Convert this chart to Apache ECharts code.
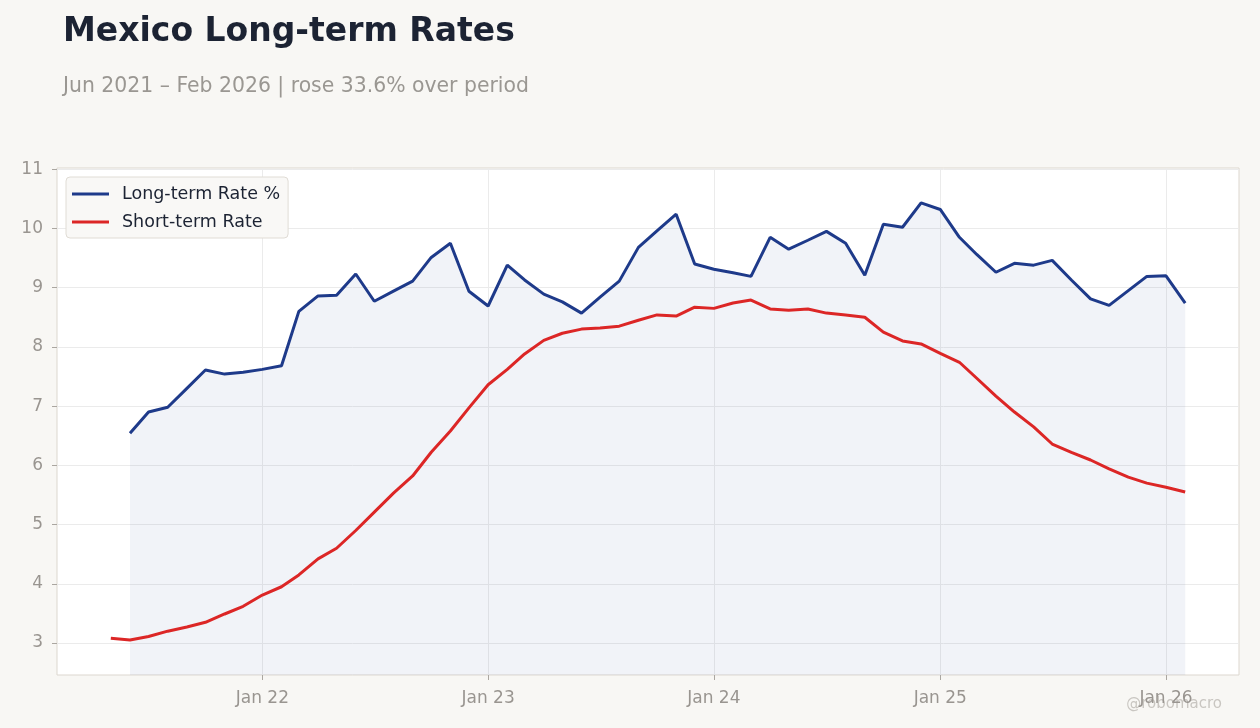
<!DOCTYPE html>
<html>
<head>
<meta charset="utf-8">
<script src="https://cdn.jsdelivr.net/npm/echarts@6/dist/echarts.min.js"></script>
<style>
  html, body { margin: 0; padding: 0; background: #f8f7f4; }
  #chart { width: 1260px; height: 728px; }
</style>
</head>
<body>
<div id="chart"></div>
<script>
// monthly observations, first day of month
var longStart  = [2021, 5];   // Jun 2021 (month index 0-based)
var shortStart = [2021, 4];   // May 2021

var longRate = [
    6.54, 6.90, 6.98, 7.30, 7.61, 7.54, 7.57, 7.62, 7.68, 8.60,
    8.86, 8.87, 9.23, 8.77, 8.94, 9.11, 9.51, 9.75, 8.94, 8.69,
    9.38, 9.13, 8.89, 8.76, 8.57, 8.84, 9.11, 9.68, 9.96, 10.24,
    9.40, 9.31, 9.25, 9.19, 9.85, 9.65, 9.80, 9.95, 9.75, 9.21,
    10.07, 10.02, 10.43, 10.32, 9.85, 9.56, 9.26, 9.41, 9.38, 9.46,
    9.13, 8.81, 8.70, 8.95, 9.19, 9.20, 8.74
];

var shortRate = [
    3.08, 3.05, 3.11, 3.20, 3.27, 3.35, 3.49, 3.62, 3.81, 3.95,
    4.15, 4.42, 4.60, 4.90, 5.21, 5.53, 5.82, 6.22, 6.58, 6.97,
    7.36, 7.62, 7.88, 8.11, 8.23, 8.30, 8.32, 8.35, 8.45, 8.54,
    8.52, 8.67, 8.65, 8.74, 8.79, 8.64, 8.62, 8.64, 8.57, 8.54,
    8.50, 8.25, 8.10, 8.05, 7.89, 7.74, 7.47, 7.17, 6.90, 6.65,
    6.36, 6.22, 6.09, 5.94, 5.80, 5.70, 5.63, 5.55
];

var yearTicks = [2022, 2023, 2024, 2025, 2026];
var rateTicks = [3, 4, 5, 6, 7, 8, 9, 10, 11];

function monthly(start, values) {
    var out = [];
    for (var i = 0; i < values.length; i++) {
        out.push([Date.UTC(start[0], start[1] + i, 1), values[i]]);
    }
    return out;
}

var tickValues = yearTicks.map(function (y) { return Date.UTC(y, 0, 1); });

var labelColor = '#999590';
var gridColor  = '#ebebeb';
var fontFamily = 'DejaVu Sans';

const myChart = echarts.init(document.getElementById('chart'), null, { renderer: 'canvas' });

var option = {
    backgroundColor: '#f8f7f4',
    textStyle: { fontFamily: fontFamily },
    title: [
        {
            text: 'Mexico Long-term Rates',
            left: 58,
            top: 11,
            textStyle: { fontFamily: fontFamily, fontSize: 33, fontWeight: 'bold', color: '#1c2333' }
        },
        {
            text: 'Jun 2021 \u2013 Feb 2026 | rose 33.6% over period',
            left: 58,
            top: 72,
            textStyle: { fontFamily: fontFamily, fontSize: 20.4, fontWeight: 'normal', color: '#9a9792' }
        }
    ],
    legend: {
        orient: 'vertical',
        left: 66,
        top: 177,
        padding: [8, 8, 7, 6],
        backgroundColor: '#f9f8f6',
        borderColor: '#e0dcd5',
        borderWidth: 1,
        borderRadius: 4,
        icon: 'rect',
        itemWidth: 37,
        itemHeight: 3,
        itemGap: 10,
        textStyle: { fontFamily: fontFamily, fontSize: 17.5, color: '#1c2333', padding: [0, 0, 0, 8] },
        data: ['Long-term Rate %', 'Short-term Rate']
    },
    grid: {
        left: 57,
        right: 21,
        top: 168,
        bottom: 53,
        show: true,
        backgroundColor: '#ffffff',
        borderColor: '#dcd7cf',
        borderWidth: 1,
        containLabel: false
    },
    xAxis: {
        type: 'value',
        min: Date.UTC(2021, 1, 3),
        max: Date.UTC(2026, 3, 29),
        axisLine: { show: false },
        axisTick: {
            show: true,
            length: 5,
            customValues: tickValues,
            lineStyle: { color: '#aaa6a0' }
        },
        axisLabel: {
            customValues: tickValues,
            color: labelColor,
            fontSize: 17,
            margin: 15,
            fontFamily: fontFamily,
            formatter: function (v) {
                return 'Jan ' + String(new Date(v).getUTCFullYear()).slice(2);
            }
        },
        splitLine: { show: true, lineStyle: { color: gridColor, width: 1 } }
    },
    yAxis: {
        type: 'value',
        min: 2.46,
        max: 11.02,
        splitNumber: 8,
        axisLine: { show: false },
        axisTick: { show: true, length: 5, customValues: rateTicks, lineStyle: { color: '#aaa6a0' } },
        axisLabel: {
            customValues: rateTicks,
            color: labelColor,
            fontSize: 17,
            margin: 14,
            fontFamily: fontFamily
        },
        splitLine: { show: true, lineStyle: { color: gridColor, width: 1 } }
    },
    series: [
        {
            name: 'Long-term Rate %',
            type: 'line',
            data: monthly(longStart, longRate),
            showSymbol: false,
            symbol: 'none',
            lineStyle: { color: '#1e3a8a', width: 3 },
            itemStyle: { color: '#1e3a8a' },
            areaStyle: { color: 'rgba(30, 58, 138, 0.09)' },
            z: 3
        },
        {
            name: 'Short-term Rate',
            type: 'line',
            data: monthly(shortStart, shortRate),
            showSymbol: false,
            symbol: 'none',
            lineStyle: { color: '#dc2626', width: 3 },
            itemStyle: { color: '#dc2626' },
            z: 4
        }
    ],
    graphic: [
        {
            type: 'text',
            right: 38,
            top: 697,
            style: {
                text: '@robomacro',
                fill: '#c9c6c1',
                font: '15px "DejaVu Sans"'
            }
        }
    ]
};

if (option && typeof option === "object") {
    myChart.setOption(option, true);
}
</script>
</body>
</html>
